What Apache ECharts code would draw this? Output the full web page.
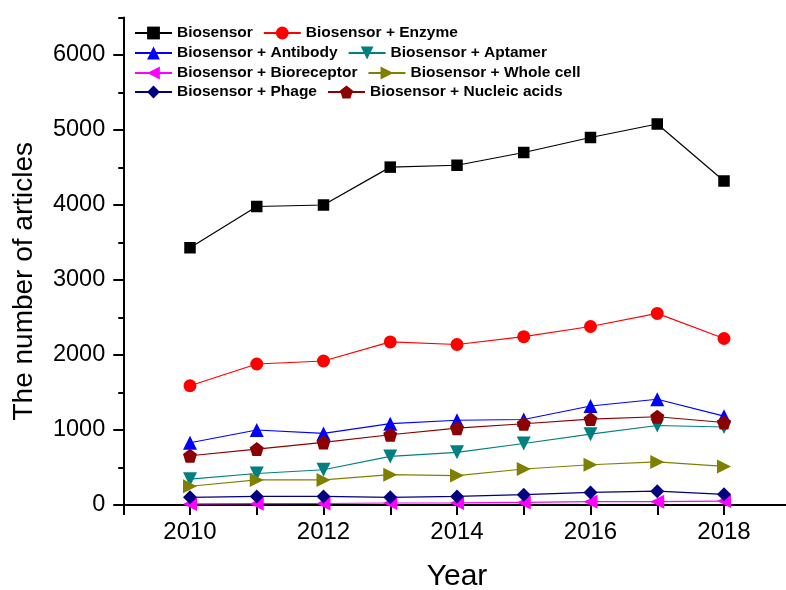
<!DOCTYPE html>
<html>
<head>
<meta charset="utf-8">
<script src="https://cdn.jsdelivr.net/npm/echarts@6/dist/echarts.min.js"></script>
<style>html,body{margin:0;padding:0;background:#fff}#c{width:786px;height:590px}</style>
</head>
<body>
<div id="c"></div>
<script>
var years = [2010, 2011, 2012, 2013, 2014, 2015, 2016, 2017, 2018];
var seriesNames = ['Biosensor', 'Biosensor + Enzyme', 'Biosensor + Antibody', 'Biosensor + Aptamer',
  'Biosensor + Bioreceptor', 'Biosensor + Whole cell', 'Biosensor + Phage', 'Biosensor + Nucleic acids'];
var biosensor   = [3430, 3980, 4000, 4505, 4530, 4700, 4900, 5080, 4320];
var enzyme      = [1590, 1880, 1920, 2175, 2140, 2245, 2380, 2555, 2220];
var antibody    = [830, 1000, 955, 1085, 1130, 1140, 1320, 1410, 1185];
var aptamer     = [345, 420, 470, 648, 702, 820, 945, 1060, 1040];
var bioreceptor = [15, 18, 20, 27, 28, 35, 44, 45, 52];
var wholecell   = [250, 335, 335, 405, 392, 480, 537, 575, 515];
var phage       = [102, 115, 115, 102, 115, 138, 168, 185, 142];
var nucleic     = [657, 746, 835, 937, 1025, 1083, 1146, 1177, 1100];
var yTicks = [0, 1000, 2000, 3000, 4000, 5000, 6000];

var values = [biosensor, enzyme, antibody, aptamer, bioreceptor, wholecell, phage, nucleic];
var colors = ['#000000', '#FF0000', '#0000FF', '#008080', '#FF00FF', '#808000', '#000080', '#8B0000'];
var symbols = ['rect', 'circle', 'triangle', 'triangle', 'triangle', 'triangle', 'diamond',
  'path://M0,-10 L9.51,-3.09 L5.88,8.09 L-5.88,8.09 L-9.51,-3.09 Z'];
var rotates = [0, 0, 0, 180, 90, -90, 0, 0];
var sizes = [11.5, 13, 14, 14, 14, 14, 14, 14];

var FONT = 'Liberation Sans, Arial, sans-serif';

var series = seriesNames.map(function (n, i) {
  return {
    name: n, type: 'line', xAxisIndex: 0, yAxisIndex: 0,
    data: years.map(function (y, k) { return [y, values[i][k]]; }),
    symbol: symbols[i], symbolSize: sizes[i], symbolRotate: rotates[i],
    showAllSymbol: true,
    lineStyle: { color: colors[i], width: 1.2 },
    itemStyle: { color: colors[i], opacity: 1 },
    emphasis: { disabled: true },
    animation: false
  };
});

var rowTops = [33, 53, 73, 92];
var legends = [0, 1, 2, 3].map(function (r) {
  return {
    data: [seriesNames[2 * r], seriesNames[2 * r + 1]],
    left: 134, top: rowTops[r] - 8, padding: 0,
    orient: 'horizontal', itemGap: 10, itemWidth: 37, itemHeight: 16,
    textStyle: { fontFamily: FONT, fontWeight: 'bold', fontSize: 15.5, color: '#000', padding: [0, 0, 0, 0] },
    selectedMode: false
  };
});

var chart = echarts.init(document.getElementById('c'), null, { renderer: 'canvas' });
chart.setOption({
  animation: false,
  backgroundColor: '#fff',
  legend: legends,
  grid: { left: 123.25, right: -4.75, top: 17.5, bottom: 85, containLabel: false, outerBoundsMode: 'none' },
  xAxis: {
    type: 'value', min: 2009, max: 2019, interval: 1,
    name: 'Year', nameLocation: 'middle', nameGap: 57, nameMoveOverlap: false,
    nameTextStyle: { fontFamily: FONT, fontSize: 30, color: '#000' },
    axisLine: { show: true, onZero: false, lineStyle: { color: '#000', width: 2 } },
    axisTick: { show: true, inside: false, length: 10, lineStyle: { color: '#000', width: 2 } },
    axisLabel: {
      margin: 15, fontFamily: FONT, fontSize: 24, color: '#000',
      formatter: function (v) { return (v % 2 === 0 && v >= 2010 && v <= 2018) ? String(v) : ''; }
    },
    splitLine: { show: false }
  },
  yAxis: [{
    type: 'value', position: 'left', min: 0, max: 6500, interval: 500,
    name: 'The number of articles', nameLocation: 'middle', nameGap: 85, nameRotate: 90, nameMoveOverlap: false,
    nameTextStyle: { fontFamily: FONT, fontSize: 28, color: '#000', padding: [0, 40, 0, 0] },
    axisLine: { show: true, onZero: false, lineStyle: { color: '#000', width: 2 } },
    axisTick: { show: true, inside: false, length: 5, lineStyle: { color: '#000', width: 2 } },
    axisLabel: { show: false },
    splitLine: { show: false }
  }, {
    type: 'value', position: 'left', min: 0, max: 6500, interval: 1000,
    axisLine: { show: false },
    axisTick: { show: true, inside: false, length: 10, customValues: yTicks, lineStyle: { color: '#000', width: 2 } },
    axisLabel: {
      margin: 18, fontFamily: FONT, fontSize: 23.5, color: '#000', customValues: yTicks,
      formatter: function (v) { return v % 1000 === 0 ? String(v) : ''; }
    },
    splitLine: { show: false }
  }],
  series: series
});
</script>
</body>
</html>
